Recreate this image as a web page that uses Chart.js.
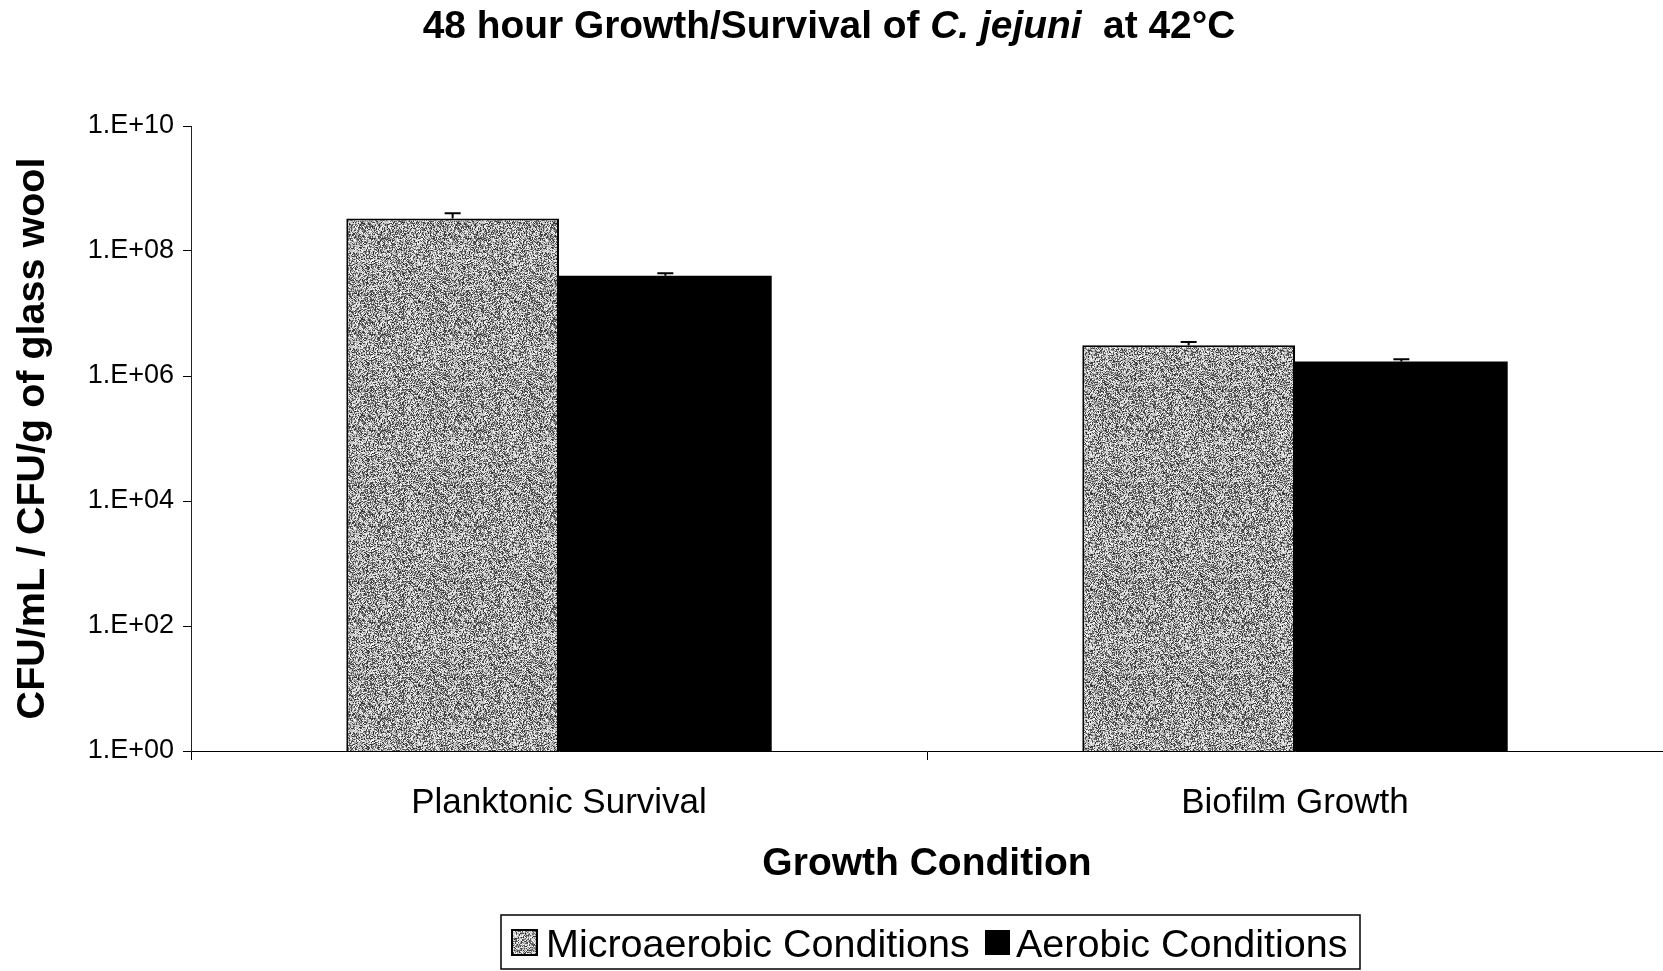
<!DOCTYPE html>
<html><head><meta charset="utf-8">
<script src="https://cdn.jsdelivr.net/npm/chart.js@4/dist/chart.umd.min.js"></script>
<style>html,body{margin:0;padding:0;background:#fff}canvas{display:block}</style>
</head><body>
<canvas id="c" width="1663" height="971"></canvas>
<script>
const categories = ['Planktonic Survival', 'Biofilm Growth'];
const seriesNames = ['Microaerobic Conditions', 'Aerobic Conditions'];
const microaerobic = [3.3e8, 3.1e6];
const aerobic = [4.0e7, 1.7e6];
const microaerobicErrTop = [4.0e8, 3.5e6];
const aerobicErrTop = [4.4e7, 1.85e6];
const yTickValues = [1, 1e2, 1e4, 1e6, 1e8, 1e10];
const yTickLabels = ['1.E+00', '1.E+02', '1.E+04', '1.E+06', '1.E+08', '1.E+10'];
const titleParts = [['48 hour Growth/Survival of ', false], ['C. jejuni', true], ['  at 42°C', false]];
const xTitle = 'Growth Condition';
const yTitle = 'CFU/mL / CFU/g of glass wool';

const FONT = '"Liberation Sans", Arial, Helvetica, sans-serif';

// stipple texture for the microaerobic bars (deterministic hash)
function makePattern() {
  const s = 96;
  const pc = document.createElement('canvas');
  pc.width = s; pc.height = s;
  const pctx = pc.getContext('2d');
  const img = pctx.createImageData(s, s);
  for (let y = 0; y < s; y++) {
    for (let x = 0; x < s; x++) {
      const h = Math.abs(Math.sin(x * 12.9898 + y * 78.233) * 43758.5453) % 1;
      const h2 = Math.abs(Math.sin(x * 39.346 + y * 11.135) * 24634.6345) % 1;
      let v;
      if (h < 0.42) v = 40 + h2 * 90; else v = 160 + h2 * 95;
      const i = (y * s + x) * 4;
      img.data[i] = img.data[i + 1] = img.data[i + 2] = v;
      img.data[i + 3] = 255;
    }
  }
  pctx.putImageData(img, 0, 0);
  return document.getElementById('c').getContext('2d').createPattern(pc, 'repeat');
}
const stipple = makePattern();

const errTops = [microaerobicErrTop, aerobicErrTop];

const errorBarPlugin = {
  id: 'errorBars',
  afterDatasetsDraw(chart) {
    const ctx = chart.ctx;
    const ys = chart.scales.y;
    ctx.save();
    ctx.strokeStyle = '#000';
    ctx.lineWidth = 2;
    chart.data.datasets.forEach((ds, di) => {
      const meta = chart.getDatasetMeta(di);
      meta.data.forEach((bar, i) => {
        const yt = ys.getPixelForValue(errTops[di][i]);
        const x = bar.x;
        ctx.beginPath();
        ctx.moveTo(x, bar.y);
        ctx.lineTo(x, yt);
        ctx.moveTo(x - 8, yt);
        ctx.lineTo(x + 8, yt);
        ctx.stroke();
      });
    });
    ctx.restore();
  }
};

const titleLegendPlugin = {
  id: 'titleLegend',
  afterDraw(chart) {
    const ctx = chart.ctx;
    ctx.save();
    // title with italic species name
    const base = 33;
    const fontFor = (it, sz) => (it ? 'italic ' : '') + 'bold ' + sz + 'px ' + FONT;
    let w = 0;
    titleParts.forEach(([t, it]) => { ctx.font = fontFor(it, base); w += ctx.measureText(t).width; });
    const targetW = 813;
    const sz = base * targetW / w;
    let tw = 0;
    titleParts.forEach(([t, it]) => { ctx.font = fontFor(it, sz); tw += ctx.measureText(t).width; });
    let x = 829 - tw / 2;
    ctx.fillStyle = '#000';
    ctx.textBaseline = 'alphabetic';
    ctx.textAlign = 'left';
    titleParts.forEach(([t, it]) => {
      ctx.font = fontFor(it, sz);
      ctx.fillText(t, x, 38);
      x += ctx.measureText(t).width;
    });

    // legend
    ctx.lineWidth = 1.5;
    ctx.strokeStyle = '#000';
    ctx.strokeRect(501, 915, 859, 54);
    ctx.font = '39.5px ' + FONT;
    ctx.textBaseline = 'alphabetic';
    // marker 1
    ctx.fillStyle = stipple;
    ctx.fillRect(512, 930, 25, 25);
    ctx.lineWidth = 2;
    ctx.strokeRect(512, 930, 25, 25);
    ctx.fillStyle = '#000';
    ctx.fillText(seriesNames[0], 546, 957);
    // marker 2
    ctx.fillRect(985, 930, 25, 25);
    ctx.fillText(seriesNames[1], 1016, 957);
    ctx.restore();
  }
};

new Chart(document.getElementById('c'), {
  type: 'bar',
  data: {
    labels: categories,
    datasets: [
      { label: seriesNames[0], data: microaerobic, backgroundColor: stipple, borderColor: '#000', borderWidth: 2 },
      { label: seriesNames[1], data: aerobic, backgroundColor: '#000', borderColor: '#000', borderWidth: 0 }
    ]
  },
  options: {
    responsive: false,
    animation: false,
    devicePixelRatio: 1,
    layout: { padding: { top: 126, left: 0, right: 0, bottom: 83 } },
    datasets: { bar: { categoryPercentage: 0.578, barPercentage: 1.0 } },
    plugins: { legend: { display: false }, title: { display: false }, tooltip: { enabled: false } },
    scales: {
      x: {
        grid: { drawOnChartArea: false, drawTicks: true, tickLength: 9, color: '#000', offset: true },
        border: { display: true, color: '#000', width: 1 },
        ticks: { color: '#000', font: { family: FONT, size: 35 }, padding: 22, maxRotation: 0 },
        title: { display: true, text: xTitle, color: '#000', font: { family: FONT, size: 39, weight: 'bold' }, padding: { top: 0, bottom: 0 } },
        afterFit(scale) { scale.height = 137; }
      },
      y: {
        type: 'logarithmic',
        min: 1, max: 1e10,
        grid: { drawOnChartArea: false, drawTicks: true, tickLength: 8, color: '#000' },
        border: { display: true, color: '#222', width: 1 },
        afterBuildTicks(scale) { scale.ticks = yTickValues.map(v => ({ value: v, major: false })); },
        ticks: {
          color: '#000', font: { family: FONT, size: 27 }, padding: 9,
          callback(value) { const i = yTickValues.indexOf(value); return i >= 0 ? yTickLabels[i] : ''; }
        },
        title: { display: true, text: yTitle, color: '#000', font: { family: FONT, size: 39.5, weight: 'bold' }, padding: { top: 9, bottom: 0 } },
        afterFit(scale) { scale.width = 191; }
      }
    }
  },
  plugins: [errorBarPlugin, titleLegendPlugin]
});
</script>
</body></html>
